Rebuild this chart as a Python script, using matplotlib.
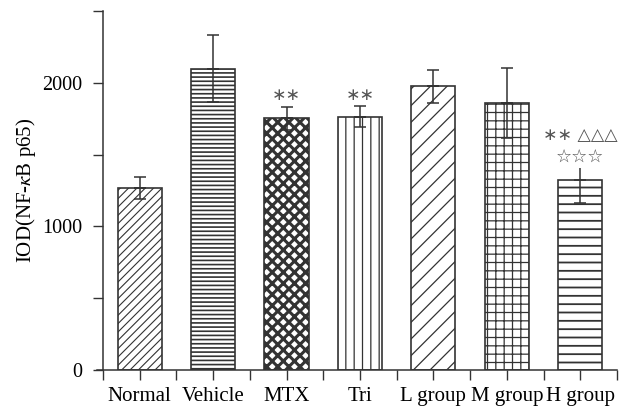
import matplotlib
matplotlib.use("Agg")
import matplotlib.pyplot as plt
import numpy as np

categories = ["Normal", "Vehicle", "MTX", "Tri", "L group", "M group", "H group"]
values = [1266, 2098, 1754, 1765, 1979, 1856, 1324]
err_low = [78, 235, 80, 70, 118, 243, 162]
err_high = [76, 232, 77, 70, 112, 246, 81]
upper_cap = [True, True, True, True, True, True, False]
hatches = ["////", "----", "xxx", "||", "//", "++", "--"]
hatch_lw = [0.8, 1.2, 2.2, 0.9, 0.9, 0.9, 1.3]
annot_top = ["", "", "∗∗", "∗∗", "", "", "∗∗ △△△"]
annot_top_y = [0, 0, 1916, 1916, 0, 0, 1637]
annot_second = ["", "", "", "", "", "", "☆☆☆"]
annot_second_y = [0, 0, 0, 0, 0, 0, 1484]
yticks = [0, 1000, 2000]

plt.rcParams["font.family"] = ["Liberation Serif", "DejaVu Sans"]
plt.rcParams["mathtext.fontset"] = "stix"

fig = plt.figure(figsize=(6.21, 4.08), dpi=100)
ax = fig.add_axes([0.1562, 0.0931, 0.8374, 0.880])

edge = "#333333"
x = np.arange(len(categories))
for i in range(len(categories)):
    with plt.rc_context({"hatch.linewidth": hatch_lw[i]}):
        b = ax.bar(x[i], values[i], width=0.6, facecolor="white", edgecolor=edge,
                   hatch=hatches[i], linewidth=1.2, zorder=2)
        for p in b:
            if hasattr(p, "set_hatch_linewidth"):
                p.set_hatch_linewidth(hatch_lw[i])
    ax.errorbar(x[i], values[i], yerr=[[err_low[i]], [0]], fmt="none",
                ecolor=edge, elinewidth=1.1, capsize=4, capthick=1.1, zorder=3)
    ax.errorbar(x[i], values[i], yerr=[[0], [err_high[i]]], fmt="none",
                ecolor=edge, elinewidth=1.1, capsize=4 if upper_cap[i] else 0,
                capthick=1.1, zorder=3)
    if annot_top[i]:
        ax.text(x[i], annot_top_y[i], annot_top[i], ha="center", va="center",
                fontsize=12.5, color="#555555", family=["DejaVu Sans"])
    if annot_second[i]:
        ax.text(x[i], annot_second_y[i], annot_second[i], ha="center", va="center",
                fontsize=13, color="#555555", family=["DejaVu Sans"])

ax.set_xlim(-0.58, 6.5)
ax.set_ylim(0, 2500)
ax.spines["left"].set_position(("data", -0.5))
ax.spines["top"].set_visible(False)
ax.spines["right"].set_visible(False)
for s in ("left", "bottom"):
    ax.spines[s].set_color(edge)
    ax.spines[s].set_linewidth(1.1)

ax.set_xticks(x)
ax.set_xticklabels(categories, fontsize=15)
ax.set_xticks(np.arange(-0.5, 7, 1.0), minor=True)
ax.set_yticks(yticks)
ax.set_yticklabels([str(v) for v in yticks], fontsize=14.5)
ax.set_yticks([500, 1500, 2500], minor=True)
ax.tick_params(axis="both", which="both", direction="out", length=7, width=1.0, color=edge)
ax.tick_params(axis="x", pad=5)
ax.tick_params(axis="y", pad=8)
ax.set_ylabel("IOD(NF-$\\kappa$B p65)", fontsize=15, labelpad=3)

fig.savefig("out.png", dpi=100)
